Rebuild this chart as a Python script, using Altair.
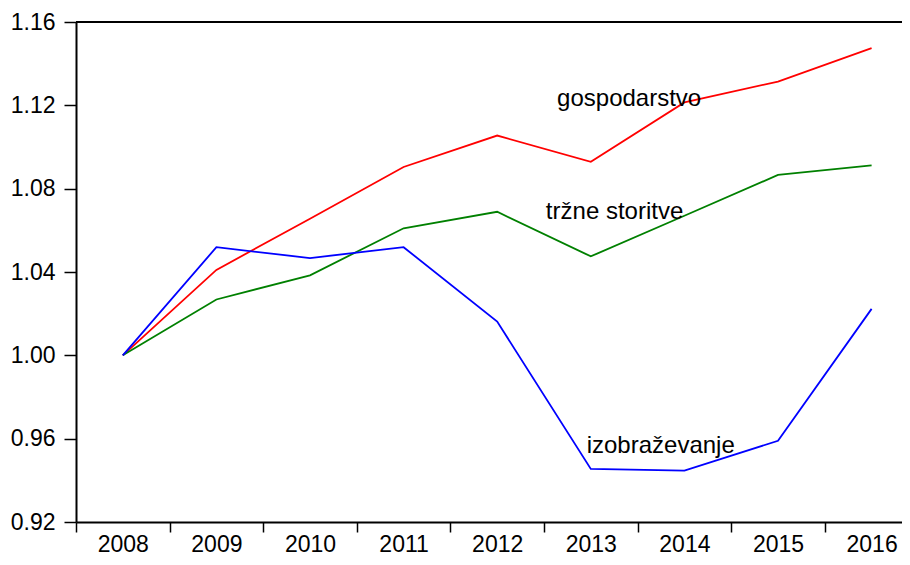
import altair as alt
import pandas as pd

years = [2008, 2009, 2010, 2011, 2012, 2013, 2014, 2015, 2016]
gospodarstvo = [1.000, 1.041, 1.0656, 1.0904, 1.1055, 1.0929, 1.1214, 1.1314, 1.1475]
trzne_storitve = [1.000, 1.0268, 1.0384, 1.0610, 1.0689, 1.0475, 1.0670, 1.0866, 1.0912]
izobrazevanje = [1.000, 1.0519, 1.0467, 1.0519, 1.0162, 0.9455, 0.9447, 0.9590, 1.0223]

series_names = ["gospodarstvo", "tržne storitve", "izobraževanje"]
series_colors = ["#ff0000", "#008000", "#0000ff"]
y_ticks = [0.92, 0.96, 1.00, 1.04, 1.08, 1.12, 1.16]

# annotation labels (text, year position, value position)
ann_text = ["gospodarstvo", "tržne storitve", "izobraževanje"]
ann_x = [2012.64, 2012.52, 2012.956]
ann_y = [1.1198, 1.0655, 0.9529]

rows = []
for name, vals in zip(series_names, [gospodarstvo, trzne_storitve, izobrazevanje]):
    for yr, v in zip(years, vals):
        rows.append({"year": yr, "value": v, "series": name})
df = pd.DataFrame(rows)
ann = pd.DataFrame({"text": ann_text, "x": ann_x, "y": ann_y})

FONT = "Liberation Sans"
FS = 23
band = 93.6
plot_w = 826
plot_h = 500
x_dom = [2007.5, 2007.5 + plot_w / band]
y_dom = [0.92, 1.16]

xscale = alt.Scale(domain=x_dom, nice=False, zero=False)
yscale = alt.Scale(domain=y_dom, nice=False, zero=False)

lines = alt.Chart(df).mark_line(strokeWidth=1.8, clip=True).encode(
    x=alt.X("year:Q", scale=xscale, title=None,
            axis=alt.Axis(values=years, format="d", tickOffset=-band / 2,
                          labelOffset=band / 2,
                          tickSize=10, tickWidth=1.5, tickColor="black",
                          domainColor="black", domainWidth=2,
                          labelFont=FONT, labelFontSize=FS, labelColor="black",
                          labelPadding=1, grid=False, labelFlush=False,
                          labelOverlap=False)),
    y=alt.Y("value:Q", scale=yscale, title=None,
            axis=alt.Axis(values=y_ticks, format=".2f",
                          tickSize=12, tickWidth=1.5, tickColor="black",
                          domainColor="black", domainWidth=2,
                          labelFont=FONT, labelFontSize=FS, labelColor="black",
                          labelPadding=9, grid=False, labelFlush=False,
                          labelOverlap=False)),
    color=alt.Color("series:N", scale=alt.Scale(domain=series_names, range=series_colors),
                    legend=None),
    detail="series:N",
)

top = alt.Chart(pd.DataFrame({"y": [y_dom[1]]})).mark_rule(color="black", strokeWidth=2).encode(
    y=alt.Y("y:Q", scale=yscale),
)

labels = alt.Chart(ann).mark_text(align="left", baseline="alphabetic", font=FONT,
                                  fontSize=24, color="black").encode(
    x=alt.X("x:Q", scale=xscale),
    y=alt.Y("y:Q", scale=yscale),
    text="text:N",
)

chart = alt.layer(lines, top, labels).properties(
    width=plot_w, height=plot_h,
    autosize=alt.AutoSizeParams(type="none"),
    padding={"left": 68, "top": 14, "right": 0, "bottom": 35},
).configure_view(stroke=None).configure(background="white")

chart.save("out.html", embed_options={"renderer": "svg", "actions": False})
